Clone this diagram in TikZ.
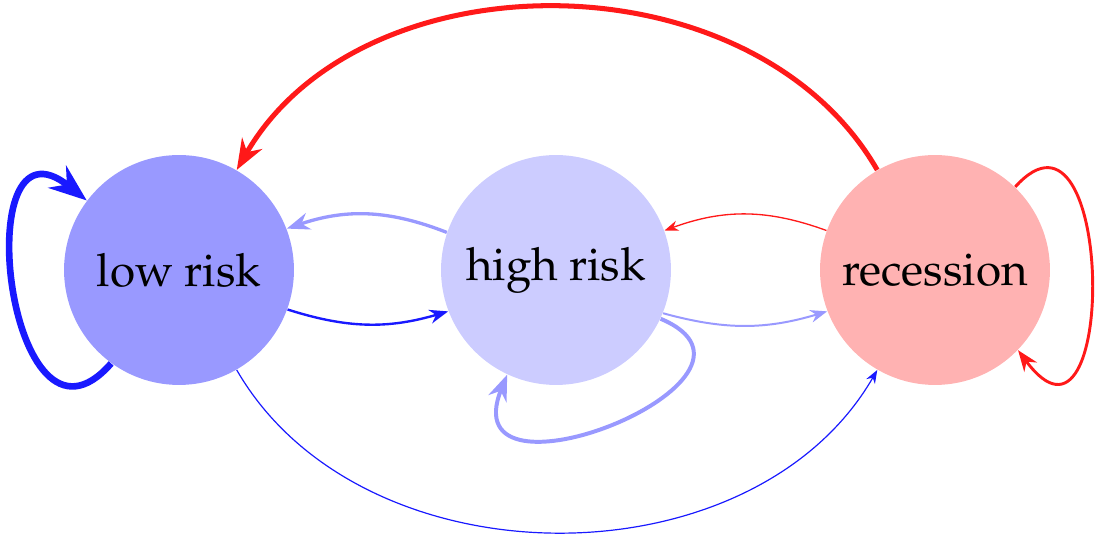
\documentclass[tikz,border=0pt]{standalone}
\usepackage[T1]{fontenc}
\usepackage{mathpazo}
\usetikzlibrary{arrows.meta}
\begin{document}
\begin{tikzpicture}[x=0.3775pt,y=0.3775pt,
  state/.style={circle,minimum size=86.8pt,inner sep=0pt,font=\LARGE},
  arr/.style={-{Stealth}},
]
\useasboundingbox (0,0) rectangle (1099,537);
\node[state,fill=blue!40] (low) at (179,267) {low risk};
\node[state,fill=blue!20] (high) at (556,267) {high risk};
\node[state,fill=red!30] (rec) at (935,267) {recession};

\draw[arr, blue!90, line width=0.9pt] (low.-20) to[bend right=17] (high.-159);
\draw[arr, blue!40, line width=1.25pt] (high.161) to[bend right=20] (low.21);
\draw[arr, blue!40, line width=0.75pt] (high.-22) to[bend right=16] (rec.201);
\draw[arr, red!90, line width=0.5pt] (rec.160) to[bend right=20] (high.20);
\draw[arr, blue!90, line width=0.45pt] (low.-60) to[bend right=60] (rec.240);
\draw[arr, red!90, line width=1.9pt] (rec.120) to[bend right=60] (low.60);

\draw[arr, blue!90, line width=2.5pt] (low.234) .. controls +(-103,-118) and +(-122,98) .. (low.143);
\draw[arr, blue!40, line width=1.5pt] (high.-25) .. controls +(140,-59) and +(-58,-143) .. (high.245);
\draw[arr, red!90, line width=1.1pt] (rec.46) .. controls +(100,111) and +(100,-135) .. (rec.-44);
\end{tikzpicture}
\end{document}
